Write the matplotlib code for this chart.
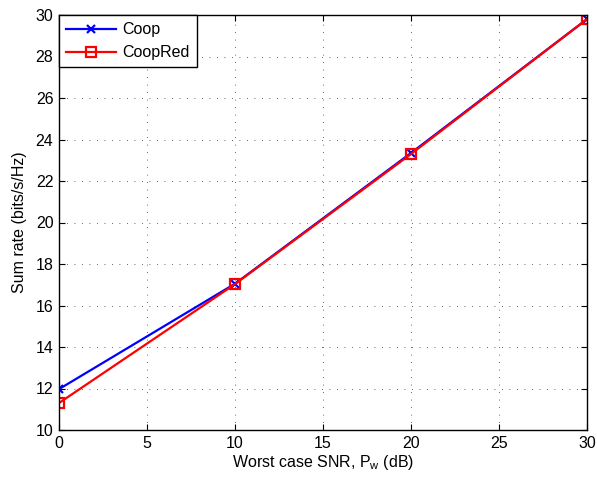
import matplotlib
matplotlib.use("Agg")
import matplotlib.pyplot as plt

snr_db = [0, 10, 20, 30]
coop = [11.97, 17.05, 23.35, 29.8]
coop_red = [11.3, 17.03, 23.3, 29.8]
x_ticks = [0, 5, 10, 15, 20, 25, 30]
y_ticks = [10, 12, 14, 16, 18, 20, 22, 24, 26, 28, 30]

plt.rcParams.update({
    "font.family": ["Liberation Sans", "DejaVu Sans"],
    "font.size": 11.5,
    "mathtext.fontset": "custom",
    "mathtext.rm": "Liberation Sans",
    "mathtext.it": "Liberation Sans",
})

fig = plt.figure(figsize=(5.97, 4.79), dpi=100)
ax = fig.add_axes([59 / 597, 1 - 430 / 479, (587 - 59) / 597, (430 - 15) / 479])

ax.plot(snr_db, coop, color='blue', linewidth=1.6, marker='x', markersize=6,
        markeredgewidth=1.6, label='Coop')
ax.plot(snr_db, coop_red, color='red', linewidth=1.6, marker='s', markersize=7,
        markerfacecolor='none', markeredgewidth=1.6, label='CoopRed')

ax.set_xlim(0, 30)
ax.set_ylim(10, 30)
ax.set_xticks(x_ticks)
ax.set_yticks(y_ticks)
ax.tick_params(direction='in', top=True, right=True, length=4, width=0.8,
               labelsize=11.5, pad=4)
ax.grid(True, linestyle=(0, (1, 8)), color='#333333', linewidth=0.6)
for s in ax.spines.values():
    s.set_linewidth(1.0)

ax.set_xlabel('Worst case SNR, P$_\\mathrm{w}$ (dB)', fontsize=11.5, labelpad=2)
ax.set_ylabel('Sum rate (bits/s/Hz)', fontsize=11.5, labelpad=6)

leg = ax.legend(loc='upper left', borderaxespad=0, fancybox=False, framealpha=1,
                edgecolor='black', fontsize=11.5, handlelength=3.1, borderpad=0.45,
                labelspacing=0.5, handletextpad=0.4)
leg.get_frame().set_linewidth(1.0)

fig.savefig('out.png', dpi=100)
